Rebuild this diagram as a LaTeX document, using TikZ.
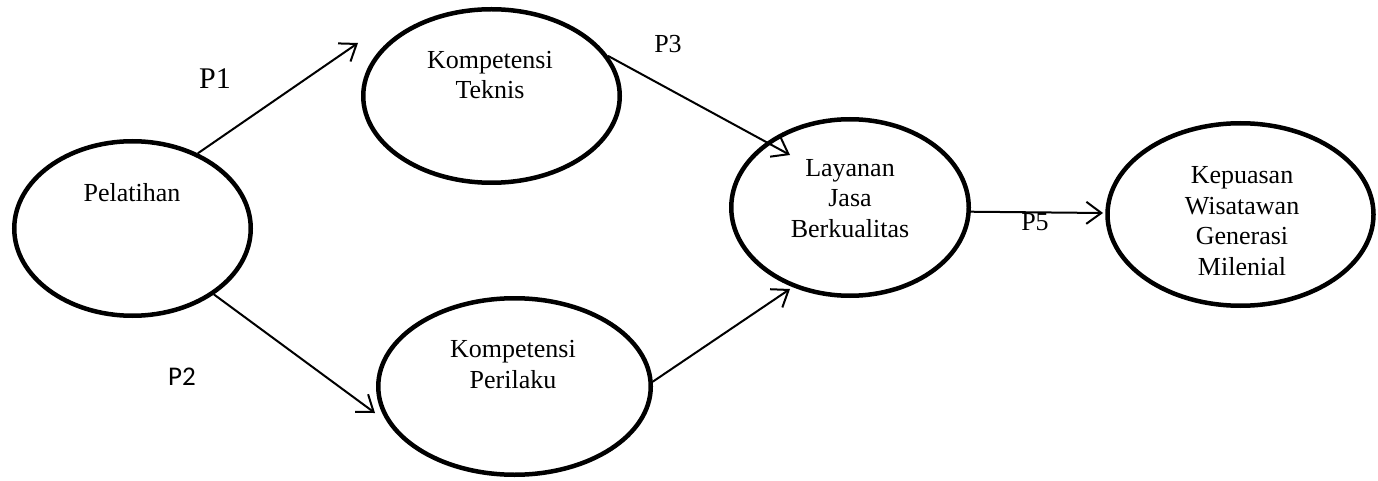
\documentclass[tikz,border=0pt]{standalone}
\usepackage{fontspec}
\setmainfont{Liberation Serif}
\newfontfamily\calfont{Carlito}
\usetikzlibrary{shapes.geometric,arrows.meta}
\tikzset{
  construct/.style={draw, ellipse, line width=4.5pt, inner sep=0pt},
  lbl/.style={font=\fontsize{26}{30.5}\selectfont, align=center, anchor=base, inner sep=0pt},
  plab/.style={font=\fontsize{26}{30}\selectfont, anchor=base, inner sep=0pt},
  arr/.style={line width=2pt, -{Straight Barb[length=15pt,width=22pt,line width=2pt]}}
}
\begin{document}
\begin{tikzpicture}[x=1pt,y=-1pt]
\useasboundingbox (0,0) rectangle (1378,481);
% ellipses
\node[construct, minimum width=236.5pt, minimum height=174.5pt] (pel) at (132.5,228.5) {};
\node[construct, minimum width=256.5pt, minimum height=173.5pt] (tek) at (491.5,96) {};
\node[construct, minimum width=272.5pt, minimum height=176.5pt] (per) at (514.5,386.5) {};
\node[construct, minimum width=237.5pt, minimum height=176.5pt] (lay) at (850,207.5) {};
\node[construct, minimum width=266pt, minimum height=182.5pt] (kep) at (1240.5,214.5) {};
% texts (anchor = baseline of last line)
\node[lbl] (tpel) at (132,201) {Pelatihan};
\node[lbl] (ttek) at (490,99) {Kompetensi\\Teknis};
\node[lbl] (tper) at (513,388) {Kompetensi\\Perilaku};
\node[lbl] (tlay) at (850,237) {Layanan\\Jasa\\Berkualitas};
\node[lbl] (tkep) at (1242,275) {Kepuasan\\Wisatawan\\Generasi\\Milenial};
% arrow tips
\coordinate (t1) at (358,43);
\coordinate (t2) at (375,413);
\coordinate (t3) at (790,155);
\coordinate (t4) at (790,289);
\coordinate (t5) at (1103,213);
% connectors
\draw[arr] (pel.49.4) -- (t1);
\draw[arr] (pel.-39.8) -- (t2);
\draw[arr] (tek.19.5) -- (t3);
\draw[arr] (per.2.7) -- (t4);
\draw[arr] (lay.-2.6) -- (t5);
% path labels
\node[plab, font=\fontsize{30}{34}\selectfont] (p1) at (215,89) {P1};
\node[plab, font=\calfont\fontsize{27}{30}\selectfont] (p2) at (182,385) {P2};
\node[plab] (p3) at (668,53) {P3};
\node[plab] (p5) at (1035,230) {P5};
\end{tikzpicture}
\end{document}
